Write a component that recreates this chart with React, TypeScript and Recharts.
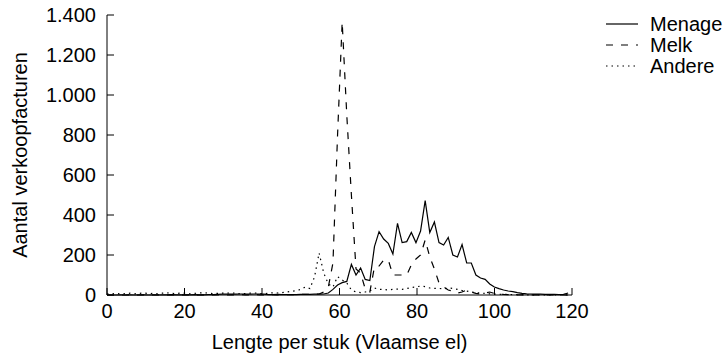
import React from "react";
import { LineChart, Line, XAxis, YAxis } from "recharts";

const lengths = [0, 1.19, 2.38, 3.57, 4.76, 5.95, 7.14, 8.33, 9.52, 10.71, 11.9, 13.09, 14.28, 15.47, 16.66, 17.85, 19.04, 20.23, 21.42, 22.61, 23.8, 24.99, 26.18, 27.37, 28.56, 29.75, 30.94, 32.13, 33.32, 34.51, 35.7, 36.89, 38.08, 39.27, 40.46, 41.65, 42.84, 44.03, 45.22, 46.41, 47.6, 48.79, 49.98, 51.17, 52.36, 53.55, 54.74, 55.93, 57.12, 58.31, 59.5, 60.69, 61.88, 63.07, 64.26, 65.45, 66.64, 67.83, 69.02, 70.21, 71.4, 72.59, 73.78, 74.97, 76.16, 77.35, 78.54, 79.73, 80.92, 82.11, 83.3, 84.49, 85.68, 86.87, 88.06, 89.25, 90.44, 91.63, 92.82, 94.01, 95.2, 96.39, 97.58, 98.77, 99.96, 101.15, 102.34, 103.53, 104.72, 105.91, 107.1, 108.29, 109.48, 110.67, 111.86, 113.05, 114.24, 115.43, 116.62, 117.81, 119.0];

const menage = [0, 0, 0, 1, 0, 1, 0, 1, 1, 0, 1, 0, 1, 1, 2, 1, 1, 0, 1, 2, 1, 1, 2, 2, 3, 4, 4, 5, 4, 5, 5, 4, 5, 5, 4, 2, 2, 3, 2, 2, 2, 2, 3, 3, 3, 4, 4, 5, 10, 28, 50, 62, 68, 153, 100, 135, 78, 72, 242, 317, 280, 258, 205, 358, 262, 267, 313, 262, 320, 472, 312, 365, 262, 250, 288, 200, 190, 252, 160, 160, 100, 85, 78, 55, 40, 32, 25, 20, 17, 12, 8, 6, 5, 4, 4, 3, 3, 3, 2, 3, 10];

const melk = [0, 0, 0, 0, 0, 1, 0, 0, 1, 0, 0, 1, 0, 0, 1, 0, 0, 1, 0, 1, 0, 1, 1, 0, 1, 1, 0, 1, 1, 2, 1, 1, 2, 1, 1, 2, 2, 1, 2, 2, 2, 2, 3, 3, 3, 3, 5, 15, 40, 160, 800, 1365, 900, 500, 130, 110, 30, 15, 140, 145, 175, 175, 100, 100, 100, 100, 150, 180, 200, 275, 190, 130, 60, 40, 25, 20, 10, 15, 25, 15, 8, 5, 10, 15, 8, 5, 3, 2, 2, 1, 1, 1, 1, 1, 1, 1, 0, 0, 0, 0, 0];

const andere = [5, 6, 8, 5, 7, 9, 6, 8, 10, 7, 8, 6, 9, 11, 8, 7, 10, 9, 6, 8, 10, 12, 9, 7, 8, 10, 9, 11, 8, 6, 7, 9, 10, 8, 6, 9, 11, 10, 12, 15, 18, 22, 28, 40, 32, 90, 210, 110, 55, 40, 92, 75, 60, 25, 15, 12, 15, 20, 35, 28, 28, 25, 28, 30, 28, 32, 38, 40, 45, 42, 35, 33, 33, 30, 35, 33, 28, 22, 20, 15, 12, 10, 8, 6, 5, 4, 3, 3, 2, 2, 2, 1, 1, 1, 1, 1, 1, 1, 1, 1, 1];

const xTicks = [0, 20, 40, 60, 80, 100, 120];
const yTicks = [0, 200, 400, 600, 800, 1000, 1200, 1400];
const seriesNames = ["Menage", "Melk", "Andere"];

const data = lengths.map((x, i) => ({ x, Menage: menage[i], Melk: melk[i], Andere: andere[i] }));

const fmt = (v: number) => v.toLocaleString("de-DE");
const FONT = "'Liberation Sans', Arial, Helvetica, sans-serif";
const FS = 20;
const dashes = ["", "7 8", "1.5 4"];

const LegendBox = () => (
  <svg width={123} height={80} style={{ position: "absolute", left: 600, top: 10 }}>
    {seriesNames.map((n, i) => (
      <g key={n}>
        <line x1={6} x2={38} y1={14 + i * 21} y2={14 + i * 21} stroke="#000" strokeWidth={1.2} strokeDasharray={dashes[i] || undefined} />
        <text x={50} y={14 + i * 21} dominantBaseline="central" fontSize={FS} fontFamily={FONT} fill="#000">{n}</text>
      </g>
    ))}
  </svg>
);

export default function App() {
  return (
    <div style={{ position: "absolute", left: 0, top: 0, width: 723, height: 360, background: "#fff" }}>
      <LineChart width={723} height={360} data={data} margin={{ top: 15, right: 151, bottom: 0, left: 0 }}>
        <XAxis
          dataKey="x"
          type="number"
          domain={[0, 120]}
          ticks={xTicks}
          tickSize={-7}
          tickMargin={16}
          stroke="#000"
          tick={{ fill: "#000", fontSize: FS, fontFamily: FONT }}
          allowDataOverflow
          height={65}
          label={{ value: "Lengte per stuk (Vlaamse el)", position: "insideBottom", offset: 11, fill: "#000", fontSize: FS, fontFamily: FONT }}
        />
        <XAxis xAxisId="top" dataKey="x" type="number" domain={[0, 120]} orientation="top" tick={false} tickLine={false} height={0} stroke="#000" />
        <YAxis
          type="number"
          domain={[0, 1400]}
          ticks={yTicks}
          tickFormatter={fmt}
          tickSize={-7}
          tickMargin={18}
          width={107}
          stroke="#000"
          tick={{ fill: "#000", fontSize: FS, fontFamily: FONT }}
          label={{ value: "Aantal verkoopfacturen", angle: -90, position: "insideLeft", offset: 20, style: { textAnchor: "middle" }, fill: "#000", fontSize: FS, fontFamily: FONT }}
        />
        <YAxis yAxisId="right" orientation="right" type="number" domain={[0, 1400]} tick={false} tickLine={false} width={0} stroke="#000" />
        <Line dataKey="Menage" type="linear" stroke="#000" strokeWidth={1.2} dot={false} isAnimationActive={false} />
        <Line dataKey="Melk" type="linear" stroke="#000" strokeWidth={1.2} strokeDasharray="7 8" dot={false} isAnimationActive={false} />
        <Line dataKey="Andere" type="linear" stroke="#000" strokeWidth={1.2} strokeDasharray="1.5 4" dot={false} isAnimationActive={false} />
      </LineChart>
      <LegendBox />
    </div>
  );
}
